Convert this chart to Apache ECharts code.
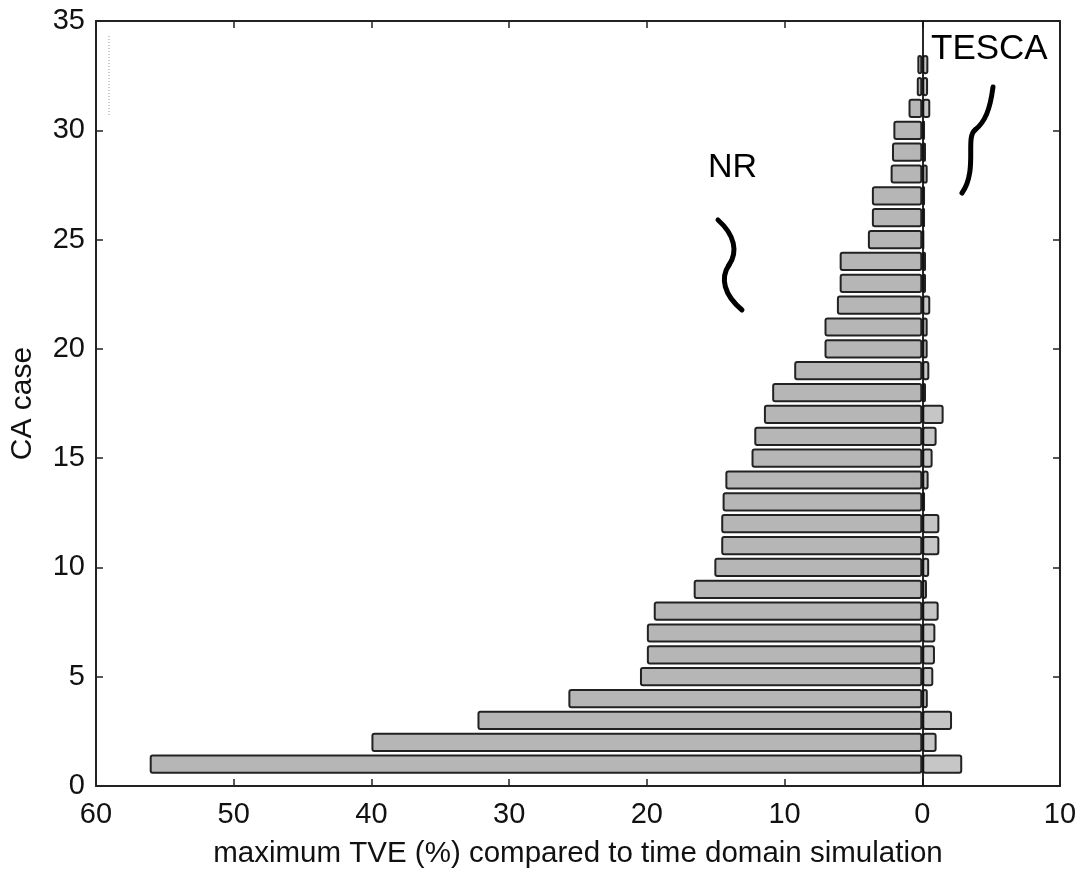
<!DOCTYPE html>
<html><head><meta charset="utf-8">
<script src="https://cdn.jsdelivr.net/npm/echarts@6/dist/echarts.min.js"></script>
<style>html,body{margin:0;padding:0;background:#fff}#c{width:1085px;height:870px}</style>
</head><body><div id="c"></div>
<script>
// CA case axis categories (tick labels shown every 5)
const caseAxis = ['0','1','2','3','4','5','6','7','8','9','10','11','12','13','14','15','16','17','18','19','20','21','22','23','24','25','26','27','28','29','30','31','32','33','34','35'];
const cases = ['1','2','3','4','5','6','7','8','9','10','11','12','13','14','15','16','17','18','19','20','21','22','23','24','25','26','27','28','29','30','31','32','33'];
// maximum TVE (%) for NR (drawn to the left) and TESCA (drawn to the right)
const nrTVE = [56.1, 40.0, 32.3, 25.7, 20.5, 20.0, 20.0, 19.5, 16.6, 15.1, 14.6, 14.6, 14.5, 14.3, 12.4, 12.2, 11.5, 10.9, 9.3, 7.1, 7.1, 6.2, 6.0, 6.0, 3.95, 3.66, 3.66, 2.3, 2.2, 2.1, 1.0, 0.4, 0.36];
const tescaTVE = [2.9, 1.04, 2.16, 0.4, 0.8, 0.92, 0.95, 1.19, 0.34, 0.5, 1.24, 1.24, 0.2, 0.46, 0.75, 1.04, 1.55, 0.27, 0.51, 0.39, 0.39, 0.58, 0.27, 0.27, 0.15, 0.2, 0.2, 0.39, 0.27, 0.2, 0.58, 0.42, 0.44];
const xMin = -60, xMax = 10, xStep = 10;

const FONT = '"Liberation Sans", Arial, Helvetica, sans-serif';
const INK = '#111';
const chart = echarts.init(document.getElementById('c'), null, {renderer: 'canvas'});

const axisLineStyle = {color: '#222', width: 2};
const tickStyle = {color: '#222', width: 1.5};

chart.setOption({
  animation: false,
  backgroundColor: '#fff',
  grid: {left: 96, right: 25, top: 21, bottom: 84, containLabel: false, outerBoundsMode: 'none'},
  xAxis: [{
    type: 'value', min: xMin, max: xMax, interval: xStep, position: 'bottom',
    axisLine: {show: true, onZero: false, lineStyle: axisLineStyle},
    axisTick: {show: true, inside: true, length: 7, lineStyle: tickStyle},
    splitLine: {show: false},
    axisLabel: {color: INK, fontSize: 29, fontFamily: FONT, margin: 14,
      formatter: v => String(Math.abs(v))},
    name: 'maximum TVE (%) compared to time domain simulation',
    nameLocation: 'middle', nameGap: 53,
    nameTextStyle: {color: INK, fontSize: 29.5, fontFamily: FONT}
  }, {
    type: 'value', min: xMin, max: xMax, interval: xStep, position: 'top',
    axisLine: {show: true, onZero: false, lineStyle: axisLineStyle},
    axisTick: {show: true, inside: true, length: 7, lineStyle: tickStyle},
    splitLine: {show: false}, axisLabel: {show: false}
  }],
  yAxis: [{
    type: 'category', data: caseAxis, boundaryGap: false, position: 'left',
    axisLine: {show: true, onZero: false, lineStyle: axisLineStyle},
    axisTick: {show: true, inside: true, length: 7, interval: 4, lineStyle: tickStyle},
    axisLabel: {interval: 4, color: INK, fontSize: 29, fontFamily: FONT, margin: 11},
    splitLine: {show: false},
    name: 'CA case', nameLocation: 'middle', nameGap: 58, nameRotate: 90,
    nameTextStyle: {color: INK, fontSize: 30, fontFamily: FONT}
  }, {
    type: 'category', data: caseAxis, boundaryGap: false, position: 'right',
    axisLine: {show: true, onZero: false, lineStyle: axisLineStyle},
    axisTick: {show: true, inside: true, length: 7, interval: 4, lineStyle: tickStyle},
    axisLabel: {show: false}, splitLine: {show: false}
  }],
  series: [{
    name: 'NR', type: 'bar', xAxisIndex: 0, yAxisIndex: 0,
    barWidth: '88%', barGap: '-100%',
    data: cases.map((c, i) => [-nrTVE[i], c]),
    itemStyle: {color: '#b6b6b6', borderColor: '#222', borderWidth: 2, borderRadius: 2}
  }, {
    name: 'TESCA', type: 'bar', xAxisIndex: 0, yAxisIndex: 0,
    barWidth: '88%', barGap: '-100%',
    data: cases.map((c, i) => [tescaTVE[i], c]),
    itemStyle: {color: '#c6c6c6', borderColor: '#222', borderWidth: 2, borderRadius: 2},
    markLine: {
      silent: true, symbol: ['none', 'none'], label: {show: false},
      lineStyle: {color: '#111', width: 1.8, type: 'solid'},
      data: [{xAxis: 0}]
    }
  }],
  graphic: [
    {type: 'text', left: 708, top: 151, style: {text: 'NR', fontSize: 34, fontFamily: FONT, fill: '#000'}},
    {type: 'text', left: 931, top: 32, style: {text: 'TESCA', fontSize: 35, fontFamily: FONT, fill: '#000'}},
    {type: 'bezierCurve', shape: {x1: 718, y1: 220, cpx1: 735, cpy1: 235, cpx2: 738, cpy2: 252, x2: 729, y2: 265},
      style: {stroke: '#000', lineWidth: 5, fill: 'none', lineCap: 'round'}},
    {type: 'bezierCurve', shape: {x1: 729, y1: 265, cpx1: 720, cpy1: 278, cpx2: 724, cpy2: 295, x2: 742, y2: 310},
      style: {stroke: '#000', lineWidth: 5, fill: 'none', lineCap: 'round'}},
    {type: 'bezierCurve', shape: {x1: 993, y1: 87, cpx1: 990, cpy1: 110, cpx2: 985, cpy2: 122, x2: 975, y2: 130},
      style: {stroke: '#000', lineWidth: 5, fill: 'none', lineCap: 'round'}},
    {type: 'bezierCurve', shape: {x1: 975, y1: 130, cpx1: 965, cpy1: 138, cpx2: 978, cpy2: 170, x2: 962, y2: 193},
      style: {stroke: '#000', lineWidth: 5, fill: 'none', lineCap: 'round'}},
    {type: 'line', shape: {x1: 109, y1: 36, x2: 109, y2: 117},
      style: {stroke: '#999', lineWidth: 1, lineDash: [1, 2]}}
  ]
});
</script>
</body></html>
